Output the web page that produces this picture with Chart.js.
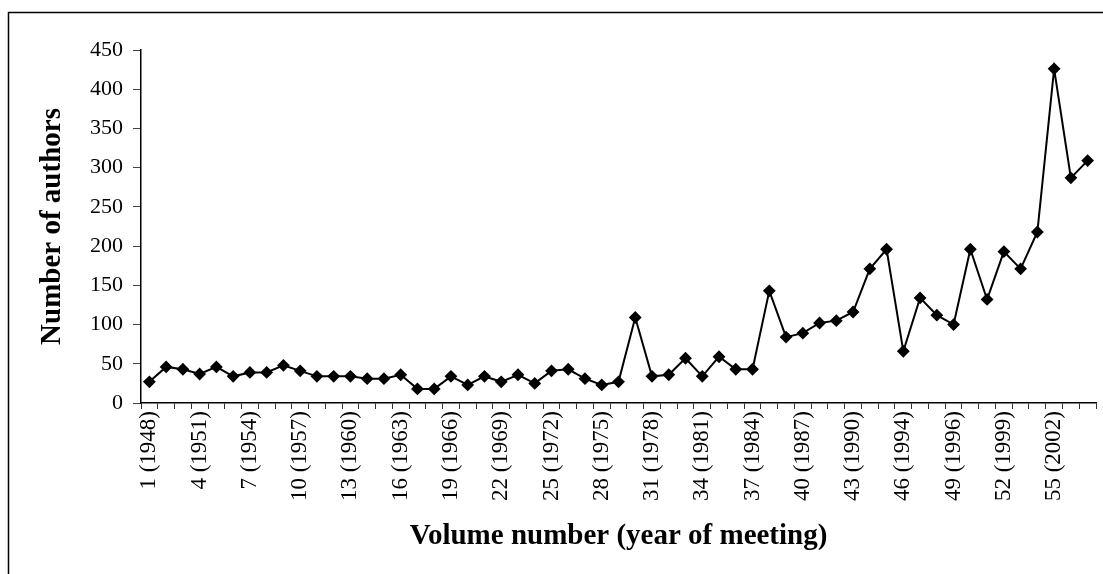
<!DOCTYPE html>
<html>
<head>
<meta charset="utf-8">
<script src="https://cdn.jsdelivr.net/npm/chart.js@4/dist/chart.umd.min.js"></script>
<style>
  html, body { margin: 0; padding: 0; background: #fff; }
  #wrap { position: relative; width: 1103px; height: 574px; overflow: hidden; }
</style>
</head>
<body>
<div id="wrap"><canvas id="authors_chart" width="1103" height="574"></canvas></div>
<script>

// volume tick labels (only every third volume is labelled)
const tickLabels = [
    '1 (1948)', '', '', '4 (1951)', '', '', '7 (1954)', '', '', '10 (1957)', '', '',
    '13 (1960)', '', '', '16 (1963)', '', '', '19 (1966)', '', '', '22 (1969)', '', '',
    '25 (1972)', '', '', '28 (1975)', '', '', '31 (1978)', '', '', '34 (1981)', '', '',
    '37 (1984)', '', '', '40 (1987)', '', '', '43 (1990)', '', '', '46 (1994)', '', '',
    '49 (1996)', '', '', '52 (1999)', '', '', '55 (2002)', '', ''
];

// number of authors per volume 1..57
const authors = [
    27, 46, 43, 37, 46, 34, 39, 39, 48, 41, 34, 34, 34, 31, 31, 36, 18, 18, 34, 23,
    34, 27, 36, 25, 41, 43, 31, 23, 27, 109, 34, 36, 57, 34, 59, 43, 43, 143, 84, 89,
    102, 105, 116, 171, 196, 66, 134, 112, 100, 196, 132, 193, 171, 218, 426, 287, 309
];

const yTicks = [0, 50, 100, 150, 200, 250, 300, 350, 400, 450];

const frame_plugin = {
    id: 'frame',
    beforeDraw(chart) {
        const ctx = chart.ctx;
        ctx.save();
        ctx.strokeStyle = '#000';
        ctx.lineWidth = 1.5;
        ctx.strokeRect(8.5, 12.5, 1200, 700);
        ctx.restore();
    }
};

function init_authors_chart() {

    var elem = document.getElementById('authors_chart').getContext('2d');

    const serif = "'Liberation Serif', 'Times New Roman', serif";

    const config = {
        type: 'line',
        data: {
            labels: tickLabels,
            datasets: [{
                label: 'Number of authors',
                data: authors,
                borderColor: '#000',
                backgroundColor: '#000',
                borderWidth: 2,
                pointStyle: 'rectRot',
                pointRadius: 5,
                pointHoverRadius: 5,
                pointBackgroundColor: '#000',
                pointBorderColor: '#000',
                tension: 0
            }]
        },
        options: {
            responsive: false,
            animation: false,
            layout: {
                padding: { top: 50, right: 0, left: 0, bottom: 0 }
            },
            plugins: {
                legend: { display: false },
                tooltip: { enabled: false }
            },
            scales: {
                x: {
                    type: 'category',
                    offset: true,
                    grid: {
                        offset: true,
                        drawOnChartArea: false,
                        drawTicks: true,
                        tickLength: 6,
                        color: '#333'
                    },
                    border: { color: '#000', width: 1.5 },
                    ticks: {
                        autoSkip: false,
                        minRotation: 90,
                        maxRotation: 90,
                        padding: 2,
                        color: '#000',
                        font: { family: serif, size: 23 }
                    },
                    title: {
                        display: true,
                        text: 'Volume number (year of meeting)',
                        color: '#000',
                        font: { family: serif, size: 29, weight: 'bold' },
                        padding: { top: 0, bottom: 20 }
                    },
                    afterFit(scale) {
                        scale.height = 171;
                        scale.paddingLeft = 0;
                        scale.paddingRight = 0;
                    }
                },
                y: {
                    min: 0,
                    max: 450,
                    afterBuildTicks(scale) {
                        scale.ticks = yTicks.map(v => ({ value: v }));
                    },
                    grid: {
                        drawOnChartArea: false,
                        drawTicks: true,
                        tickLength: 8,
                        color: '#444'
                    },
                    border: { color: '#000', width: 1.5 },
                    ticks: {
                        padding: 10,
                        color: '#000',
                        font: { family: serif, size: 22 }
                    },
                    title: {
                        display: true,
                        text: 'Number of authors',
                        color: '#000',
                        font: { family: serif, size: 29, weight: 'bold' },
                        padding: { top: 35, bottom: 0 }
                    },
                    afterFit(scale) {
                        scale.width = 141;
                        scale.paddingTop = 0;
                        scale.paddingBottom = 0;
                    }
                }
            }
        },
        plugins: [frame_plugin]
    };

    return new Chart(elem, config);
}

init_authors_chart();
</script>
</body>
</html>
